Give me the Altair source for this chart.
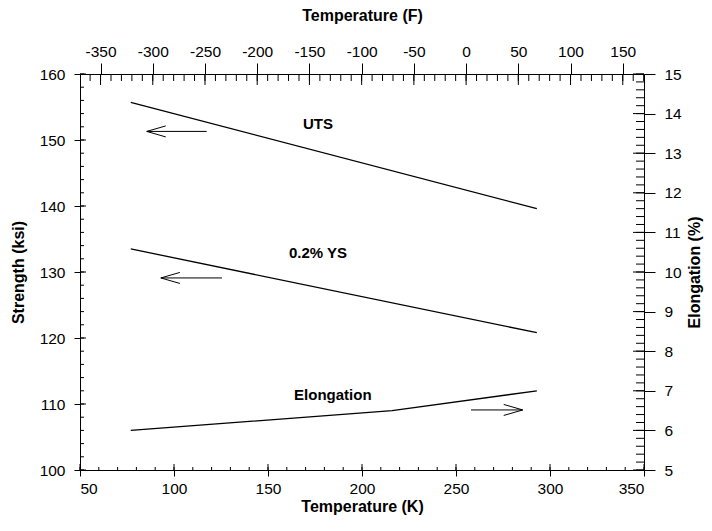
import altair as alt
import pandas as pd

# ---------------- data ----------------
temp_k = [77, 293]
uts_ksi = [155.7, 139.6]
ys_ksi = [133.5, 120.8]

elong_temp_k = [77, 216, 293]
elong_pct = [6.0, 6.5, 7.0]

# axis tick labels
k_major = [50, 100, 150, 200, 250, 300, 350]
f_major = [-350, -300, -250, -200, -150, -100, -50, 0, 50, 100, 150]
strength_major = [100, 110, 120, 130, 140, 150, 160]
elong_major = [5, 6, 7, 8, 9, 10, 11, 12, 13, 14, 15]

# annotations
label_text = ["UTS", "0.2% YS", "Elongation"]
label_k = [176.6, 176.6, 184.5]
label_ksi = [152.4, 132.9, 111.4]

arrow_tip_k = [85.5, 93.0, 285.5]
arrow_tail_k = [117.4, 125.5, 258.0]
arrow_ksi = [151.3, 129.1, 109.1]
arrow_dir = ["left", "left", "right"]

# ---------------- layout ----------------
W, H = 564, 396
K_MIN, K_MAX = 50, 350
F_MIN, F_MAX = K_MIN * 9 / 5 - 459.67, K_MAX * 9 / 5 - 459.67
FONT = "Liberation Sans"

k_minor = list(range(50, 351, 10))
f_minor = list(range(-360, 171, 10))
strength_minor = list(range(100, 161, 2))
elong_minor = [round(5 + 0.2 * i, 1) for i in range(51)]

xK = alt.Scale(domain=[K_MIN, K_MAX], nice=False, zero=False)
xF = alt.Scale(domain=[F_MIN, F_MAX], nice=False, zero=False)
yS = alt.Scale(domain=[100, 160], nice=False, zero=False)
yE = alt.Scale(domain=[5, 15], nice=False, zero=False)

strength_df = pd.DataFrame({
    "K": temp_k + temp_k,
    "ksi": uts_ksi + ys_ksi,
    "series": ["UTS"] * len(temp_k) + ["0.2% YS"] * len(temp_k),
})
elong_df = pd.DataFrame({"K": elong_temp_k, "pct": elong_pct})

strength_lines = alt.Chart(strength_df).mark_line(color="black", strokeWidth=1.3).encode(
    x=alt.X("K:Q", scale=xK, axis=alt.Axis(
        values=k_major, format="d", tickSize=6, labelPadding=5,
        title="Temperature (K)", titlePadding=2)),
    y=alt.Y("ksi:Q", scale=yS, axis=alt.Axis(
        values=strength_major, format="d", tickSize=6, labelPadding=9,
        title="Strength (ksi)", titlePadding=13)),
    detail="series:N",
)

elong_line = alt.Chart(elong_df).mark_line(color="black", strokeWidth=1.3).encode(
    x=alt.X("K:Q", scale=xK, axis=None),
    y=alt.Y("pct:Q", scale=yE, axis=alt.Axis(
        orient="right", values=elong_major, format="d", tickSize=11,
        labelPadding=9, title="Elongation (%)", titleAngle=270,
        titleBaseline="top", titlePadding=5)),
)

neg_expr = "datum.value < 0 ? '-' + format(-datum.value, 'd') : format(datum.value, 'd')"

top_minor = alt.Chart(pd.DataFrame({"F": f_minor})).mark_rule(color="black", strokeWidth=1).encode(
    x=alt.X("F:Q", scale=xF, axis=alt.Axis(
        orient="top", values=f_major, labelExpr=neg_expr, tickSize=11,
        labelPadding=4, title="Temperature (F)", titlePadding=21)),
    y=alt.value(0), y2=alt.value(7),
)
top_major = alt.Chart(pd.DataFrame({"F": f_major})).mark_rule(color="black", strokeWidth=1).encode(
    x=alt.X("F:Q", scale=xF, axis=None), y=alt.value(0), y2=alt.value(11),
)
bottom_minor = alt.Chart(pd.DataFrame({"K": k_minor})).mark_rule(color="black", strokeWidth=1).encode(
    x=alt.X("K:Q", scale=xK, axis=None), y=alt.value(H), y2=alt.value(H - 3),
)
bottom_major = alt.Chart(pd.DataFrame({"K": k_major})).mark_rule(color="black", strokeWidth=1).encode(
    x=alt.X("K:Q", scale=xK, axis=None), y=alt.value(H), y2=alt.value(H - 6),
)
left_minor = alt.Chart(pd.DataFrame({"ksi": strength_minor})).mark_rule(color="black", strokeWidth=1).encode(
    y=alt.Y("ksi:Q", scale=yS, axis=None), x=alt.value(0), x2=alt.value(4),
)
left_major = alt.Chart(pd.DataFrame({"ksi": strength_major})).mark_rule(color="black", strokeWidth=1).encode(
    y=alt.Y("ksi:Q", scale=yS, axis=None), x=alt.value(0), x2=alt.value(6),
)
right_minor = alt.Chart(pd.DataFrame({"pct": elong_minor})).mark_rule(color="black", strokeWidth=1).encode(
    y=alt.Y("pct:Q", scale=yE, axis=None), x=alt.value(W), x2=alt.value(W - 8),
)
right_major = alt.Chart(pd.DataFrame({"pct": elong_major})).mark_rule(color="black", strokeWidth=1).encode(
    y=alt.Y("pct:Q", scale=yE, axis=None), x=alt.value(W), x2=alt.value(W - 11),
)

arrow_df = pd.DataFrame({"tip": arrow_tip_k, "tail": arrow_tail_k, "ksi": arrow_ksi, "dir": arrow_dir})
arrow_shaft = alt.Chart(arrow_df).mark_rule(color="black", strokeWidth=1).encode(
    x=alt.X("tip:Q", scale=xK, axis=None), x2="tail:Q",
    y=alt.Y("ksi:Q", scale=yS, axis=None),
)
head_left = "M1.9,-0.55L0,0L1.9,0.55"
head_right = "M-1.9,-0.55L0,0L-1.9,0.55"
arrow_head = alt.Chart(arrow_df).mark_point(filled=False, color="black", strokeWidth=1, size=400, opacity=1).encode(
    x=alt.X("tip:Q", scale=xK, axis=None),
    y=alt.Y("ksi:Q", scale=yS, axis=None),
    shape=alt.Shape("dir:N", scale=alt.Scale(domain=["left", "right"], range=[head_left, head_right]), legend=None),
)

label_df = pd.DataFrame({"text": label_text, "K": label_k, "ksi": label_ksi})
labels = alt.Chart(label_df).mark_text(font=FONT, fontSize=15, fontWeight="bold", color="black",
                                       align="center", baseline="middle").encode(
    x=alt.X("K:Q", scale=xK, axis=None),
    y=alt.Y("ksi:Q", scale=yS, axis=None),
    text="text:N",
)

chart = alt.layer(
    strength_lines, elong_line, top_minor, top_major, bottom_minor, bottom_major,
    left_minor, left_major, right_minor, right_major, arrow_shaft, arrow_head, labels,
).resolve_scale(
    x="independent", y="independent", shape="independent"
).properties(
    width=W, height=H,
    autosize=alt.AutoSizeParams(type="none"),
    padding={"left": 72, "top": 66, "right": 60, "bottom": 47},
).configure_view(
    stroke=None
).configure_axis(
    grid=False, domainColor="black", domainWidth=1, tickColor="black", tickWidth=1,
    labelFont=FONT, labelFontSize=15.5, labelColor="black",
    titleFont=FONT, titleFontSize=16, titleFontWeight="bold", titleColor="black",
)

chart.save("out.html", embed_options={"renderer": "svg", "actions": False})
